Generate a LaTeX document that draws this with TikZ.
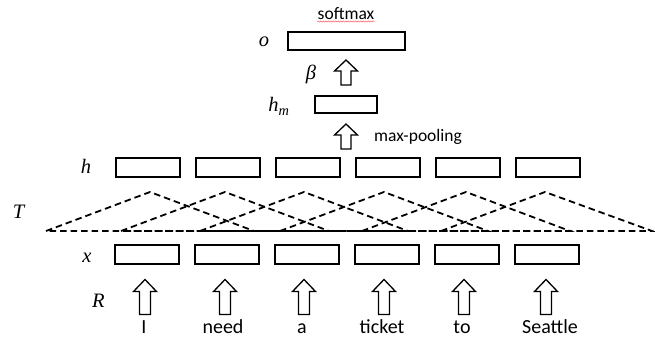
\documentclass[tikz,border=0pt]{standalone}
\usepackage{fontspec}
\setmainfont{Carlito}
\newfontfamily\tms{Liberation Serif}
\usetikzlibrary{decorations.pathmorphing}
\tikzstyle{cell}=[draw=black, line width=1.6pt, minimum width=64pt, minimum height=19pt, inner sep=0pt]
\tikzstyle{tag}=[anchor=base, inner sep=0pt, font=\tms\itshape\fontsize{20.5}{20}\selectfont]
\tikzstyle{word}=[anchor=base, inner sep=0pt, font=\fontsize{20}{20}\selectfont]
\tikzstyle{note}=[anchor=base, inner sep=0pt, font=\fontsize{17.5}{18}\selectfont]
\tikzstyle{tri}=[line width=1.8pt, dash pattern=on 6.5pt off 4pt]
\tikzset{
  lift/.pic={\draw[line width=1.3pt, line join=miter] (-5.5,17.5) -- (-5.5,-5.5) -- (-11.5,-5.5) -- (0,-17.5) -- (11.5,-5.5) -- (5.5,-5.5) -- (5.5,17.5) -- cycle;},
  liftshort/.pic={\draw[line width=1.3pt, line join=miter] (-5,12.5) -- (-5,-1.5) -- (-11.5,-1.5) -- (0,-12.5) -- (11.5,-1.5) -- (5,-1.5) -- (5,12.5) -- cycle;}
}

\begin{document}
\begin{tikzpicture}[x=1pt, y=-1pt]
            \useasboundingbox (0,0) rectangle (655,339);
            % output part
            \node[note] (sm) at (346,20) {softmax};
            \draw[red!75, line width=0.4pt, decorate, decoration={snake, amplitude=0.7pt, segment length=2.5pt}] ([yshift=-1.5pt]sm.base west) -- ([yshift=-1.5pt]sm.base east);
            \node[tag] (lo) at (264,47) {o};
            \node[cell, minimum width=117pt, minimum height=18pt] (o) at (346.5,41) {};
            \node[tag] (lb) at (311,80) {β};
            \pic (a1) at (346,72.5) {liftshort};
            \node[tag] (lhm) at (279,112) {h\textsubscript{m}};
            \node[cell, minimum width=62pt, minimum height=17pt] (hm) at (346,104.5) {};
            \pic (a2) at (346,136.5) {liftshort};
            \node[note, anchor=base west] (mp) at (374,142) {max-pooling};
            % hidden layer
            \node[tag] (lh) at (86,173) {h};
            \node[cell] (h1) at (148,167.5) {};
            \node[cell] (h2) at (228,167.5) {};
            \node[cell] (h3) at (308,167.5) {};
            \node[cell] (h4) at (388,167.5) {};
            \node[cell] (h5) at (468,167.5) {};
            \node[cell] (h6) at (548,167.5) {};
            % windows
            \node[tag] (lt) at (18.5,218) {T};
            \draw[tri] (46,231) -- (150,192) -- (254,231) -- cycle;
            \draw[tri] (121,231) -- (225,192) -- (329,231) -- cycle;
            \draw[tri] (200,231) -- (304,192) -- (408,231) -- cycle;
            \draw[tri] (280,231) -- (384,192) -- (488,231) -- cycle;
            \draw[tri] (362,231) -- (466,192) -- (570,231) -- cycle;
            \draw[tri] (441,231) -- (545,192) -- (652,231) -- cycle;
            % input layer
            \node[tag] (lx) at (87,262) {x};
            \node[cell] (x1) at (147,254.5) {};
            \node[cell] (x2) at (227,254.5) {};
            \node[cell] (x3) at (307,254.5) {};
            \node[cell] (x4) at (387,254.5) {};
            \node[cell] (x5) at (467,254.5) {};
            \node[cell] (x6) at (547,254.5) {};
            \node[tag] (lr) at (98.5,307) {R};
            \pic (r1) at (145,297) {lift};
            \pic (r2) at (225,297) {lift};
            \pic (r3) at (304,297) {lift};
            \pic (r4) at (384,297) {lift};
            \pic (r5) at (464,297) {lift};
            \pic (r6) at (546,297) {lift};
            \node[word] (w1) at (144,333) {I};
            \node[word] (w2) at (223,333) {need};
            \node[word] (w3) at (302,333) {a};
            \node[word] (w4) at (382,333) {ticket};
            \node[word] (w5) at (462,333) {to};
            \node[word] (w6) at (550,333) {Seattle};
\end{tikzpicture}
\end{document}
